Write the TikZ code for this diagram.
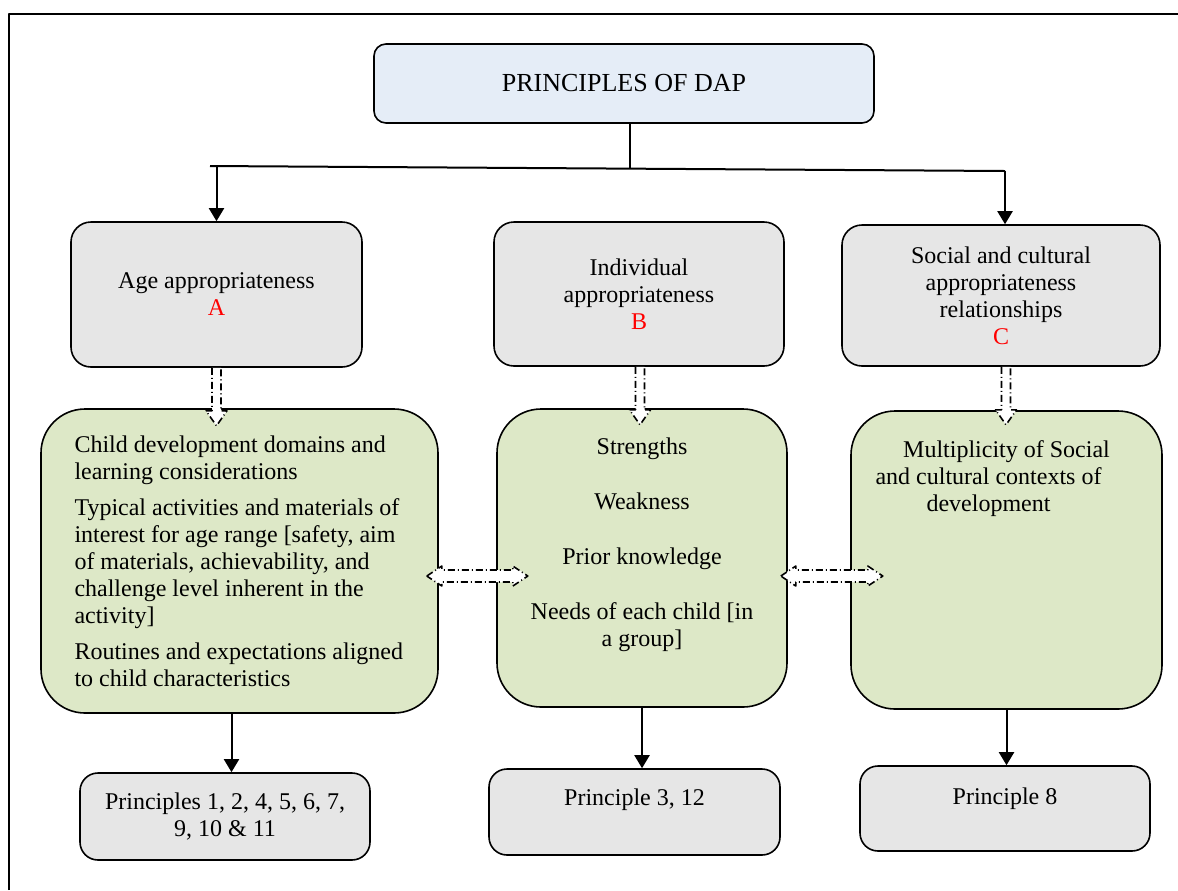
\documentclass[tikz,border=0pt]{standalone}
\usepackage{fontspec}
\setmainfont{Liberation Serif}
\usetikzlibrary{arrows.meta,positioning}

\definecolor{dapblue}{HTML}{E5EDF7}
\definecolor{boxgray}{HTML}{E6E6E6}
\definecolor{boxgreen}{HTML}{DDE8C7}

\tikzset{
  box/.style={draw, line width=0.8pt, align=center, inner sep=0pt,
    font=\fontsize{12}{13.5}\selectfont},
  headbox/.style={box, fill=dapblue, rounded corners=6pt,
    font=\fontsize{13}{15}\selectfont},
  kindbox/.style={box, fill=boxgray, rounded corners=10pt},
  domainbox/.style={box, fill=boxgreen, rounded corners=22pt},
  prinbox/.style={box, fill=boxgray, rounded corners=9pt},
  boxtext/.style={align=center, inner sep=0pt, font=\fontsize{12}{13.5}\selectfont},
  arr/.style={-{Triangle[length=6.5pt,width=7.5pt]}, line width=1pt},
  dasharrow/.style={draw, fill=white, line width=0.8pt,
    dash pattern=on 3.5pt off 1.5pt on 0.5pt off 1.5pt},
}

\begin{document}
\begin{tikzpicture}[x=0.5pt, y=-0.5pt, line join=round]
      \useasboundingbox (0,0) rectangle (1178,890);

      % outer frame
      \draw[line width=0.9pt] (9,890) -- (9,14) -- (1178,14);

      % top
      \node[headbox, minimum width=250pt, minimum height=39.5pt] (dap) at (624,83.5) {PRINCIPLES OF DAP};

      % three kinds of appropriateness
      \node[kindbox, minimum width=145.5pt, minimum height=72.5pt] (ageA) at (216.5,294.5)
        {Age appropriateness\\\textcolor{red}{A}};
      \node[kindbox, minimum width=145pt, minimum height=72pt] (indB) at (639,294)
        {Individual\\appropriateness\\\textcolor{red}{B}};
      \node[kindbox, minimum width=159pt, minimum height=70.5pt] (socC) at (1001,295.5)
        {Social and cultural\\appropriateness\\relationships\\\textcolor{red}{C}};

      % what each one looks at
      \node[domainbox, minimum width=198.5pt, minimum height=152pt, text width=165pt, align=flush left] (devA) at (239.5,561)
        {\hyphenpenalty=10000 Child development domains and learning considerations\par\vspace{4.5pt}
         Typical activities and materials of interest for age range [safety, aim of materials, achievability, and challenge level inherent in the activity]\par\vspace{4.5pt}
         Routines and expectations aligned to child characteristics};
      \node[domainbox, minimum width=145pt, minimum height=149pt] (devB) at (642,558) {};
      \node[domainbox, minimum width=155.5pt, minimum height=149pt] (devC) at (1006.5,560) {};

      \node[boxtext, below=14.5pt of devB.north] (devBtext)
        {Strengths\\[14pt]Weakness\\[14pt]Prior knowledge\\[14pt]Needs of each child [in\\a group]};
      \node[boxtext, below=15pt of devC.north, xshift=-9pt] (devCtext)
        {\hspace*{18pt}Multiplicity of Social\\and cultural contexts of\\development};

      % principles
      \node[prinbox, minimum width=145pt, minimum height=43.5pt] (prinA) at (225,816.5)
        {Principles 1, 2, 4, 5, 6, 7,\\9, 10 \& 11};
      \node[prinbox, minimum width=145.5pt, minimum height=43pt] (prinB) at (634.5,812) {};
      \node[prinbox, minimum width=145pt, minimum height=42.5pt] (prinC) at (1005,808.5) {};
      \node[boxtext, below=10pt of prinB.north] (prinBtext) {Principle 3, 12};
      \node[boxtext, below=11pt of prinC.north] (prinCtext) {Principle 8};

      % branching lines
      \coordinate (hub) at (630,168);
      \coordinate (lft) at (210,166);
      \coordinate (rgt) at (1005,171);
      \draw[line width=1pt] (dap.south -| hub) -- (hub);
      \draw[line width=1pt] (lft) -- (rgt);
      \draw[arr] (lft -| ageA.north) -- (ageA.north);
      \draw[arr] (rgt) -- (rgt |- socC.north);

      \draw[arr] ([xshift=-4pt]devA.south) -- ([xshift=-4pt]devA.south |- prinA.north);
      \draw[arr] (devB.south) -- (devB.south |- prinB.north);
      \draw[arr] (devC.south) -- (devC.south |- prinC.north);

      % hollow dash-dot arrows
      \foreach \n/\dx in {ageA/0, indB/1, socC/5}
        \draw[dasharrow, shift={(\n.south)}] (\dx-4.5,0) -- (\dx-4.5,43) -- (\dx-10.5,43) -- (\dx,58)
          -- (\dx+10.5,43) -- (\dx+4.5,43) -- (\dx+4.5,0);

      \draw[dasharrow, shift={(devA.east)}] (-12,15) -- (3,5) -- (3,9) -- (74,9) -- (74,5) -- (89,15)
        -- (74,25) -- (74,21) -- (3,21) -- (3,25) -- cycle;
      \draw[dasharrow, shift={(devB.east)}] (-7,18) -- (8,8) -- (8,12) -- (80,12) -- (80,8) -- (95,18)
        -- (80,28) -- (80,24) -- (8,24) -- (8,28) -- cycle;
\end{tikzpicture}
\end{document}
